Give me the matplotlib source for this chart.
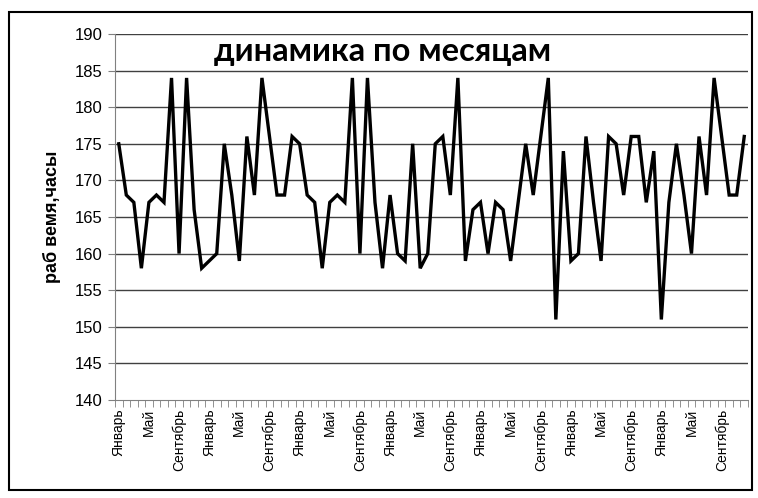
import numpy as np
import matplotlib
matplotlib.use('Agg')
import matplotlib.pyplot as plt
from matplotlib.patches import Rectangle

# monthly working hours, 7 years
hours = [175, 168, 167, 158, 167, 168, 167, 184, 160, 184, 166, 158, 159, 160,
         175, 168, 159, 176, 168, 184, 176, 168, 168, 176, 175, 168, 167, 158,
         167, 168, 167, 184, 160, 184, 167, 158, 168, 160, 159, 175, 158, 160,
         175, 176, 168, 184, 159, 166, 167, 160, 167, 166, 159, 167, 175, 168,
         176, 184, 151, 174, 159, 160, 176, 167, 159, 176, 175, 168, 176, 176,
         167, 174, 151, 167, 175, 168, 160, 176, 168, 184, 176, 168, 168, 176]
months = ['Январь', 'Февраль', 'Март', 'Апрель', 'Май', 'Июнь', 'Июль',
          'Август', 'Сентябрь', 'Октябрь', 'Ноябрь', 'Декабрь']
y_ticks = [140, 145, 150, 155, 160, 165, 170, 175, 180, 185, 190]

n = len(hours)
x = np.arange(n)
label_pos = np.arange(0, n, 4)
labels = [months[i % 12] for i in label_pos]

fig = plt.figure(figsize=(7.58, 4.98), dpi=100)
fig.patches.append(Rectangle((9/758, 1-490/498), 743/758, 478/498,
                             transform=fig.transFigure, fill=False,
                             edgecolor='black', lw=1.5))
ax = fig.add_axes([115/758, 1-400/498, 633/758, 366/498])

for v in y_ticks[1:]:
    ax.axhline(v, color='#404040', lw=1, zorder=1)
ax.plot(x, hours, color='black', lw=2.4, zorder=3, solid_joinstyle='miter')

ax.set_xlim(-0.5, n-0.5)
ax.set_ylim(140, 190)
ax.set_yticks(y_ticks)
ax.set_yticklabels([str(v) for v in y_ticks], fontsize=12, family='Liberation Sans')
ax.set_xticks(label_pos)
ax.set_xticklabels(labels, rotation=90, fontsize=10, family='Liberation Sans')
ax.set_xticks(np.arange(-0.5, n, 1), minor=True)
ax.tick_params(axis='x', which='major', length=0, pad=6)
ax.tick_params(axis='x', which='minor', length=5, color='#808080')
ax.tick_params(axis='y', length=5, color='#808080', pad=4)

for s in ['top', 'right']:
    ax.spines[s].set_visible(False)
ax.spines['left'].set_color('#808080')
ax.spines['bottom'].set_color('#808080')

ax.set_ylabel('раб вемя,часы', fontsize=13, fontweight='bold', family='Liberation Sans', labelpad=10)
ax.text(0.423, 0.951, 'динамика по месяцам', transform=ax.transAxes, ha='center', va='center',
        fontsize=23.5, fontweight='bold', family='Lato', zorder=4)

fig.savefig('out.png', dpi=100)
